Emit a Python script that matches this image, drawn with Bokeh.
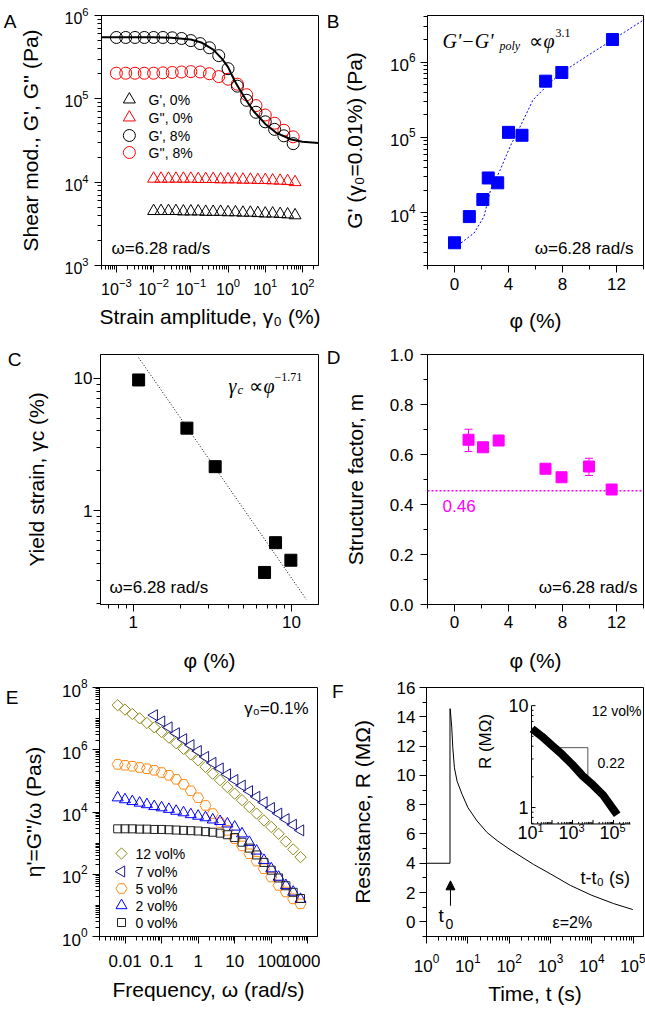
import math
from bokeh.plotting import figure
from bokeh.models import (FixedTicker, Label, Range1d, LogScale, CustomJSTickFormatter,
                          PrintfTickFormatter, ColumnDataSource, Whisker, TeeHead, Arrow,
                          NormalHead, Span, LinearAxis)
from bokeh.core.properties import value
from bokeh.layouts import column, row
from bokeh.embed import file_html
from bokeh.resources import INLINE

# ---------------- data ----------------
# Panel A: amplitude sweep
A_gamma_circ = [0.001, 0.00178, 0.00316, 0.00562, 0.01, 0.0178, 0.0316, 0.0562, 0.1, 0.178,
                0.316, 0.562, 1.0, 1.78, 3.16, 5.62, 10.0, 17.8, 31.6, 56.2]
A_Gp8 = [5.45e5, 5.45e5, 5.45e5, 5.45e5, 5.45e5, 5.45e5, 5.4e5, 5.3e5, 5.0e5, 4.6e5,
         4.1e5, 3.3e5, 2.3e5, 1.42e5, 9.6e4, 6.9e4, 5.3e4, 4.3e4, 3.6e4, 2.9e4]
A_Gpp8 = [2.03e5, 2.03e5, 2.03e5, 2.03e5, 2.03e5, 2.05e5, 2.07e5, 2.1e5, 2.12e5, 2.1e5,
          2.0e5, 1.85e5, 1.72e5, 1.5e5, 1.12e5, 8.3e4, 6.4e4, 5.1e4, 4.2e4, 3.5e4]
A_gamma_tri = [0.01, 0.0158, 0.0251, 0.0398, 0.0631, 0.1, 0.158, 0.251, 0.398, 0.631,
               1.0, 1.58, 2.51, 3.98, 6.31, 10.0, 15.8, 25.1, 39.8, 63.1]
A_Gp0 = [4.5e3, 4.5e3, 4.5e3, 4.5e3, 4.45e3, 4.45e3, 4.45e3, 4.4e3, 4.4e3, 4.4e3,
         4.35e3, 4.35e3, 4.3e3, 4.3e3, 4.25e3, 4.2e3, 4.2e3, 4.15e3, 4.1e3, 4.0e3]
A_Gpp0 = [1.1e4, 1.1e4, 1.1e4, 1.1e4, 1.1e4, 1.1e4, 1.09e4, 1.09e4, 1.09e4, 1.08e4,
          1.08e4, 1.08e4, 1.07e4, 1.07e4, 1.06e4, 1.06e4, 1.05e4, 1.04e4, 1.03e4, 1.0e4]
A_fit_x = [4e-4, 0.003, 0.01, 0.03, 0.1, 0.2, 0.4, 0.7, 1.0, 1.5, 2.0, 3.0, 5.0, 10.0, 20.0, 50.0, 100.0, 270.0]
A_fit_y = [5.5e5, 5.5e5, 5.49e5, 5.42e5, 5.15e5, 4.7e5, 3.9e5, 3.0e5, 2.4e5, 1.65e5, 1.32e5,
           9.8e4, 7.0e4, 5.0e4, 3.9e4, 3.25e4, 3.05e4, 2.95e4]
A_legend = ["G', 0%", "G'', 0%", "G', 8%", "G'', 8%"]

# Panel B: G' vs phi
B_phi = [0.0, 1.1, 2.1, 2.5, 3.2, 4.0, 5.0, 6.75, 7.95, 11.7]
B_G = [4.0e3, 8.9e3, 1.5e4, 2.9e4, 2.5e4, 1.17e5, 1.07e5, 5.6e5, 7.3e5, 2.0e6]
B_fit_phi = [0.48, 1.45, 2.18, 2.67, 3.39, 4.12, 4.85, 5.82, 7.03, 8.0, 9.7, 11.64, 14.0]
B_fit_G = [3.98e3, 5.37e3, 8.91e3, 2.0e4, 3.72e4, 7.59e4, 1.38e5, 3.16e5, 5.25e5, 7.41e5,
           1.17e6, 1.95e6, 3.63e6]

# Panel C: yield strain
C_phi = [1.08, 2.18, 3.29, 6.75, 7.92, 9.9]
C_gc = [9.7, 4.2, 2.15, 0.342, 0.574, 0.423]
C_fit_phi = [1.08, 12.4]
C_fit_gc = [14.3, 0.214]

# Panel D: structure factor
D_phi = [1.04, 2.11, 3.27, 6.74, 7.93, 9.96, 11.64]
D_m = [0.659, 0.629, 0.656, 0.543, 0.509, 0.552, 0.46]
D_err_idx = [0, 5]
D_err_lo = [0.612, 0.516]
D_err_hi = [0.701, 0.585]
D_ref = 0.455
D_ref_text = "0.46"

# Panel E: dynamic viscosity
E_omega = [0.00628, 0.00995, 0.0158, 0.025, 0.0396, 0.0628, 0.0995, 0.158, 0.25, 0.396,
           0.628, 0.995, 1.58, 2.5, 3.96, 6.28, 9.95, 15.8, 25.0, 39.6,
           62.8, 99.5, 158.0, 250.0, 396.0, 628.0]
E_12 = [2.69e7, 1.95e7, 1.41e7, 1.02e7, 7.24e6, 5.25e6, 3.72e6, 2.45e6, 1.62e6, 1.07e6,
        7.08e5, 4.57e5, 2.82e5, 1.70e5, 1.05e5, 6.31e4, 3.89e4, 2.40e4, 1.45e4, 8.91e3,
        5.37e3, 3.31e3, 2.0e3, 1.12e3, 631.0, 355.0]
E_7_omega = E_omega[5:]
E_7 = [1.29e7, 8.13e6, 5.25e6, 3.39e6, 2.19e6, 1.41e6, 9.12e5, 5.89e5, 3.80e5, 2.51e5,
       1.62e5, 1.07e5, 7.08e4, 4.68e4, 3.09e4, 2.04e4, 1.35e4, 8.91e3, 5.89e3, 3.89e3, 2.57e3]
E_5 = [3.39e5, 3.16e5, 2.95e5, 2.69e5, 2.45e5, 2.19e5, 1.86e5, 1.51e5, 1.12e5, 7.76e4,
       4.79e4, 2.88e4, 1.62e4, 8.91e3, 4.57e3, 2.57e3, 1.38e3, 813.0, 457.0, 263.0,
       151.0, 81.3, 43.7, 26.9, 16.2, 11.2]
E_2 = [2.88e4, 2.51e4, 2.19e4, 1.95e4, 1.74e4, 1.51e4, 1.38e4, 1.23e4, 1.07e4, 9.55e3,
       8.32e3, 7.41e3, 6.61e3, 5.62e3, 5.01e3, 4.17e3, 3.31e3, 2.0e3, 1.07e3, 562.0,
       282.0, 151.0, 81.3, 43.7, 26.9, 15.8]
E_0 = [2.88e3, 2.88e3, 2.88e3, 2.82e3, 2.82e3, 2.75e3, 2.75e3, 2.69e3, 2.63e3, 2.57e3,
       2.51e3, 2.45e3, 2.34e3, 2.24e3, 2.09e3, 1.86e3, 1.51e3, 1.07e3, 692.0, 417.0,
       240.0, 135.0, 75.9, 42.7, 26.3, 16.6]
E_labels = ["12 vol%", "7 vol%", "5 vol%", "2 vol%", "0 vol%"]

# Panel F: resistance
F_t = [1.0, 3.7, 3.7, 3.75, 4.09, 4.33, 4.74, 5.5, 7.27, 10.1, 16.7, 29.2, 51.0, 99.0,
       389.0, 988.0, 3020.0, 10000.0, 33400.0, 98000.0]
F_R = [4.0, 4.0, 14.55, 14.55, 13.24, 11.88, 10.52, 9.6, 8.7, 7.79, 6.89, 6.1, 5.55, 4.98,
       3.92, 3.28, 2.49, 1.81, 1.25, 0.84]
F_t0 = 3.8
F_in_dt = [10.7, 31.6, 100.0, 316.0, 1000.0, 3160.0, 10000.0, 31600.0, 100000.0, 151000.0]
F_in_R = [5.92, 5.0, 4.07, 3.31, 2.63, 2.04, 1.66, 1.32, 0.955, 0.85]
F_slope_x = [177.0, 5600.0, 5600.0]
F_slope_y = [3.87, 3.87, 1.82]
F_in_xticks = [10.0, 1000.0, 100000.0]
F_in_xexp = ["1", "3", "5"]
F_in_yticks = [1.0, 10.0]

# ---------------- styling helpers ----------------
FONT = "Liberation Sans"
SERIF = "Liberation Serif"
MAG = "#FF00FF"


def decade_minors(lo_exp, hi_exp, lo, hi):
    out = []
    for e in range(lo_exp, hi_exp + 1):
        for k in range(2, 10):
            v = k * 10.0 ** e
            if lo <= v <= hi:
                out.append(v)
    return out


def make_fig(w, h, bl, br, bt, bb, xr, yr, xlog=False, ylog=False):
    p = figure(width=w, height=h, min_border_left=bl, min_border_right=br,
               min_border_top=bt, min_border_bottom=bb,
               x_range=Range1d(*xr), y_range=Range1d(*yr),
               x_axis_type="log" if xlog else "linear",
               y_axis_type="log" if ylog else "linear",
               output_backend="svg", toolbar_location=None)
    p.grid.visible = False
    p.outline_line_color = "black"
    p.outline_line_width = 1
    p.outline_line_alpha = 1.0
    p.background_fill_color = "white"
    p.border_fill_color = "white"
    for ax in p.axis:
        ax.axis_line_color = "black"
        ax.major_tick_line_color = "black"
        ax.minor_tick_line_color = "black"
        ax.major_tick_in = 0
        ax.major_tick_out = 7
        ax.minor_tick_in = 0
        ax.minor_tick_out = 4
        ax.major_label_text_font = FONT
        ax.major_label_text_font_size = "17px"
        ax.major_label_text_color = "black"
        ax.axis_label_text_font = FONT
        ax.axis_label_text_font_size = "21px"
        ax.axis_label_text_font_style = "normal"
        ax.axis_label_text_color = "black"
    return p


def label(p, x, y, text, size=17, align="left", baseline="middle", font=FONT,
          style="normal", color="black", angle=0.0):
    p.add_layout(Label(x=x, y=y, x_units="screen", y_units="screen", text=text,
                       text_font=font, text_font_size=f"{size}px", text_align=align,
                       text_baseline=baseline, text_font_style=style, text_color=color,
                       angle=angle))


def px_to_data(r, log, px, length):
    lo, hi = r.start, r.end
    if log:
        return 10 ** (math.log10(lo) + px / length * (math.log10(hi) - math.log10(lo)))
    return lo + px / length * (hi - lo)


def panel_letter(p, letter, frame_h, px_below_top, standoff):
    # the panel letter is drawn as the single tick label of an outer, otherwise invisible left axis
    rng = dict(p.extra_y_ranges)
    rng["letter"] = Range1d(0, 1)
    p.extra_y_ranges = rng
    pos = 1 - px_below_top / frame_h
    ax = LinearAxis(y_range_name="letter", ticker=FixedTicker(ticks=[pos], minor_ticks=[]),
                    formatter=CustomJSTickFormatter(code=f"return '{letter}';"),
                    axis_line_color=None, major_tick_line_color=None, minor_tick_line_color=None,
                    major_tick_out=0, major_tick_in=0, minor_tick_out=0, minor_tick_in=0,
                    major_label_standoff=standoff, major_label_text_font=FONT,
                    major_label_text_font_size="19px", major_label_text_color="black")
    p.add_layout(ax, "left")


def axes_style(p, xs1, xs2, ys1, ys2):
    p.xaxis.major_label_standoff = xs1
    p.xaxis.axis_label_standoff = xs2
    p.yaxis.major_label_standoff = ys1
    p.yaxis.axis_label_standoff = ys2


plain_fmt = CustomJSTickFormatter(code="return tick.toString();")

# ---------------- Panel A ----------------
AW, AH = 218, 250
pA = make_fig(320, 338, 100, 2, 15, 73, (10 ** -3.4, 10 ** 2.43), (1e3, 1e6), True, True)
pA.xaxis.ticker = FixedTicker(ticks=[1e-3, 1e-2, 1e-1, 1.0, 10.0, 100.0],
                              minor_ticks=decade_minors(-4, 2, 10 ** -3.4, 10 ** 2.43))
pA.yaxis.ticker = FixedTicker(ticks=[1e3, 1e4, 1e5, 1e6], minor_ticks=decade_minors(3, 5, 1e3, 1e6))
pA.xaxis.major_label_text_font_size = "16px"
pA.yaxis.major_label_text_font_size = "16px"
pA.xaxis.axis_label = "Strain amplitude, γ₀ (%)"
pA.yaxis.axis_label = "Shear mod., G', G'' (Pa)"
axes_style(pA, 5, 7, 6, 19)
A_styles = [("triangle", "black"), ("triangle", "#FF0000"), ("circle", "black"), ("circle", "#FF0000")]
pA.scatter(A_gamma_tri, A_Gp0, marker="triangle", size=12, fill_color=None, line_color="black")
pA.scatter(A_gamma_tri, A_Gpp0, marker="triangle", size=12, fill_color=None, line_color="#FF0000")
pA.scatter(A_gamma_circ, A_Gpp8, marker="circle", size=12, fill_color=None, line_color="#FF0000")
pA.scatter(A_gamma_circ, A_Gp8, marker="circle", size=12, fill_color=None, line_color="black")
pA.line(A_fit_x, A_fit_y, line_color="black", line_width=2)
for i, ((mk, col), txt) in enumerate(zip(A_styles, A_legend)):
    ry = [166, 148, 130, 113][i]
    lx = px_to_data(pA.x_range, True, 28, AW)
    ly = px_to_data(pA.y_range, True, ry, AH)
    pA.scatter([lx], [ly], marker=mk, size=12, fill_color=None, line_color=col)
    label(pA, 47, ry, txt, size=14)
label(pA, 10, 17, "ω=6.28 rad/s", size=17)
panel_letter(pA, "A", AH, 0, 0)

# ---------------- Panel B ----------------
pB = make_fig(325, 338, 107, 2, 15, 72, (-2, 14), (10 ** 3.30, 10 ** 6.62), False, True)
pB.xaxis.ticker = FixedTicker(ticks=[0, 4, 8, 12], minor_ticks=[-2, 2, 6, 10, 14])
pB.yaxis.ticker = FixedTicker(ticks=[1e4, 1e5, 1e6], minor_ticks=decade_minors(3, 6, 10 ** 3.30, 10 ** 6.62))
pB.xaxis.axis_label = "φ (%)"
pB.yaxis.axis_label = "G' (γ₀=0.01%) (Pa)"
axes_style(pB, 5, 16, 5, 21)
pB.line(B_fit_phi, B_fit_G, line_color="#0000FF", line_dash="2 2", line_width=1)
pB.scatter(B_phi, B_G, marker="square", size=12, fill_color="#0000FF", line_color="#0000FF")
label(pB, 15, 225, "G'−G'", size=20, font=SERIF, style="italic", baseline="alphabetic")
label(pB, 72, 220, "poly", size=12, font=SERIF, style="italic", baseline="alphabetic")
label(pB, 101, 225, "∝", size=20, font=SERIF, baseline="alphabetic")
label(pB, 116, 225, "φ", size=20, font=SERIF, style="italic", baseline="alphabetic")
label(pB, 128, 233, "3.1", size=12, font=SERIF, baseline="alphabetic")
label(pB, 206, 17, "ω=6.28 rad/s", size=17, align="right")
panel_letter(pB, "B", 251, 0, 0)

# ---------------- Panel C ----------------
pC = make_fig(320, 338, 100, 2, 15, 72, (0.62, 14.8), (0.196, 15.1), True, True)
pC.xaxis.ticker = FixedTicker(ticks=[1.0, 10.0], minor_ticks=decade_minors(-1, 1, 0.62, 14.8))
pC.yaxis.ticker = FixedTicker(ticks=[1.0, 10.0], minor_ticks=decade_minors(-1, 1, 0.196, 15.1))
pC.xaxis.formatter = plain_fmt
pC.yaxis.formatter = plain_fmt
pC.xaxis.axis_label = "φ (%)"
pC.yaxis.axis_label = "Yield strain, γc (%)"
axes_style(pC, 4, 18, 1, 23)
pC.line(C_fit_phi, C_fit_gc, line_color="black", line_dash="1 2", line_width=1)
pC.scatter(C_phi, C_gc, marker="square", size=12, fill_color="black", line_color="black")
label(pC, 128, 219, "γ", size=20, font=SERIF, style="italic", baseline="alphabetic")
label(pC, 137, 215, "c", size=13, font=SERIF, style="italic", baseline="alphabetic")
label(pC, 148, 219, "∝", size=20, font=SERIF, baseline="alphabetic")
label(pC, 163, 219, "φ", size=20, font=SERIF, style="italic", baseline="alphabetic")
label(pC, 174, 228, "−1.71", size=12, font=SERIF, baseline="alphabetic")
label(pC, 9, 17, "ω=6.28 rad/s", size=17)
panel_letter(pC, "C", 251, 6, 0)

# ---------------- Panel D ----------------
pD = make_fig(325, 338, 107, 2, 16, 72, (-2, 14), (0, 1))
pD.xaxis.ticker = FixedTicker(ticks=[0, 4, 8, 12], minor_ticks=[-2, 2, 6, 10, 14])
pD.yaxis.ticker = FixedTicker(ticks=[0, 0.2, 0.4, 0.6, 0.8, 1.0], minor_ticks=[0.1, 0.3, 0.5, 0.7, 0.9])
pD.yaxis.formatter = PrintfTickFormatter(format="%.1f")
pD.xaxis.axis_label = "φ (%)"
pD.yaxis.axis_label = "Structure factor, m"
axes_style(pD, 4, 18, 7, 20)
pD.add_layout(Span(location=D_ref, dimension="width", line_color=MAG, line_dash="2 2", line_width=1.5))
err_src = ColumnDataSource(dict(x=[D_phi[i] for i in D_err_idx], lo=D_err_lo, hi=D_err_hi))
pD.add_layout(Whisker(source=err_src, base="x", lower="lo", upper="hi", line_color=MAG, line_width=1,
                      upper_head=TeeHead(size=8, line_color=MAG, line_width=1),
                      lower_head=TeeHead(size=8, line_color=MAG, line_width=1), level="underlay"))
pD.scatter(D_phi, D_m, marker="square", size=11, fill_color=MAG, line_color=MAG)
label(pD, 15, 99, D_ref_text, size=17, color=MAG)
label(pD, 210, 17, "ω=6.28 rad/s", size=17, align="right")
panel_letter(pD, "D", 250, 3, 0)

# ---------------- Panel E ----------------
EW, EH = 218, 249
pE = make_fig(320, 334, 99, 3, 11, 74, (0.002, 1830), (1, 1e8), True, True)
pE.xaxis.ticker = FixedTicker(ticks=[0.01, 0.1, 1, 10, 100, 1000],
                              minor_ticks=decade_minors(-3, 3, 0.002, 1830))
pE.yaxis.ticker = FixedTicker(ticks=[1, 1e2, 1e4, 1e6, 1e8],
                              minor_ticks=[10, 1e3, 1e5, 1e7] + decade_minors(0, 7, 1, 1e8))
pE.xaxis.formatter = plain_fmt
pE.xaxis.axis_label = "Frequency, ω (rad/s)"
pE.yaxis.axis_label = "η'=G''/ω (Pas)"
axes_style(pE, 11, 8, 5, 14)
OLIVE, NAVY, ORANGE, BLUE, DARK = "#8C8C1E", "#1A1A8C", "#FF8C1A", "#0000FF", "#222222"
E_styles = [("square", OLIVE, 8, math.pi / 4), ("triangle", NAVY, 11, math.pi / 2),
            ("hex", ORANGE, 11, 0.0), ("triangle", BLUE, 11, 0.0), ("square", DARK, 8, 0.0)]
E_series = [(E_omega, E_12), (E_7_omega, E_7), (E_omega, E_5), (E_omega, E_2), (E_omega, E_0)]
for (xs, ys), (mk, col, sz, ang) in zip(E_series, E_styles):
    pE.scatter(xs, ys, marker=mk, size=sz, angle=ang, fill_color=None, line_color=col, line_width=1)
for i, ((mk, col, sz, ang), txt) in enumerate(zip(E_styles, E_labels)):
    ry = [83, 65, 48, 31, 14][i]
    lx = px_to_data(pE.x_range, True, 22, EW)
    ly = px_to_data(pE.y_range, True, ry, EH)
    pE.scatter([lx], [ly], marker=mk, size=sz, angle=ang, fill_color=None, line_color=col, line_width=1)
    label(pE, 36, ry, txt, size=14)
label(pE, 209, 228, "γ₀=0.1%", size=17, align="right")
panel_letter(pE, "E", EH, 4, 0)

# ---------------- Panel F ----------------
FW, FH = 217, 251
pF = make_fig(325, 334, 106, 2, 9, 74, (1, 10 ** 5.25), (-1, 16), True, False)
pF.xaxis.ticker = FixedTicker(ticks=[1, 10, 100, 1e3, 1e4, 1e5],
                              minor_ticks=decade_minors(0, 5, 1, 10 ** 5.25))
pF.yaxis.ticker = FixedTicker(ticks=list(range(0, 17, 2)), minor_ticks=list(range(-1, 17, 2)))
pF.xaxis.axis_label = "Time, t (s)"
pF.yaxis.axis_label = "Resistance, R (MΩ)"
axes_style(pF, 10, 7, 4, 20)
pF.line(F_t, F_R, line_color="black", line_width=1)
pF.add_layout(Arrow(end=NormalHead(size=9, fill_color="black", line_color="black"),
                    x_start=F_t0, y_start=1.1, x_end=F_t0, y_end=2.8, line_width=1, line_color="black"))
label(pF, 12, 21, "t", size=19, baseline="alphabetic")
label(pF, 19, 13, "0", size=14, baseline="alphabetic")
label(pF, 126, 14, "ε=2%", size=16)

# inset (log-log) drawn on extra ranges inside panel F
INS_X0, INS_DX = 105.0, 20.5        # px of 10^1 from frame left, px per decade
INS_Y10, INS_DY = 18.3, 102.7       # px of R=10 from frame top, px per decade
INS_YMIN, INS_XMAX = 0.69, 10 ** 5.83
pF.extra_x_ranges = {"ix": Range1d(10 ** (1 - INS_X0 / INS_DX), 10 ** (1 + (FW - INS_X0) / INS_DX))}
pF.extra_x_scales = {"ix": LogScale()}
pF.extra_y_ranges = {"iy": Range1d(10 ** (1 - (FH - INS_Y10) / INS_DY), 10 ** (1 + INS_Y10 / INS_DY))}
pF.extra_y_scales = {"iy": LogScale()}
kw = dict(x_range_name="ix", y_range_name="iy")
pF.line([10, 10], [INS_YMIN, 10], line_color="black", line_width=1, **kw)
pF.line([10, INS_XMAX], [INS_YMIN, INS_YMIN], line_color="black", line_width=1, **kw)
in_xmaj = [10.0, 100.0, 1e3, 1e4, 1e5]
in_xmin = decade_minors(1, 5, 10, INS_XMAX)
in_ymin = decade_minors(-1, 0, INS_YMIN, 10)
pF.ray(x=in_xmaj, y=[INS_YMIN] * len(in_xmaj), length=4, angle=math.pi / 2, length_units="screen",
       line_color="black", line_width=1, **kw)
pF.ray(x=in_xmin, y=[INS_YMIN] * len(in_xmin), length=2, angle=math.pi / 2, length_units="screen",
       line_color="black", line_width=1, **kw)
pF.ray(x=[10.0] * len(F_in_yticks), y=F_in_yticks, length=4, angle=0.0, length_units="screen",
       line_color="black", line_width=1, **kw)
pF.ray(x=[10.0] * len(in_ymin), y=in_ymin, length=2, angle=0.0, length_units="screen",
       line_color="black", line_width=1, **kw)
pF.text(x=[10.0] * len(F_in_yticks), y=F_in_yticks, text=[str(int(v)) for v in F_in_yticks],
        text_align="right", text_baseline="middle", x_offset=-3, text_font=value(FONT),
        text_font_size=value("18px"), text_color="black", **kw)
pF.text(x=F_in_xticks, y=[INS_YMIN] * 3, text=["10"] * 3, text_align="right", text_baseline="top",
        x_offset=6, y_offset=2, text_font=value(FONT), text_font_size=value("18px"),
        text_color="black", **kw)
pF.text(x=F_in_xticks, y=[INS_YMIN] * 3, text=F_in_xexp, text_align="left", text_baseline="top",
        x_offset=6, y_offset=0, text_font=value(FONT), text_font_size=value("11px"),
        text_color="black", **kw)
pF.line(F_slope_x, F_slope_y, line_color="#555555", line_width=1, **kw)
pF.line(F_in_dt, F_in_R, line_color="black", line_width=8, **kw)
label(pF, 59, 195, "R (MΩ)", size=17, align="center", angle=math.pi / 2)
label(pF, 154, 59, "t-t₀ (s)", size=18, baseline="alphabetic")
label(pF, 215, 226, "12 vol%", size=14, align="right")
label(pF, 171, 174, "0.22", size=14)
panel_letter(pF, "F", FH, 4, 4)

layout = column(row(pA, pB), row(pC, pD), row(pE, pF))
open("out.html", "w").write(file_html(layout, INLINE))
